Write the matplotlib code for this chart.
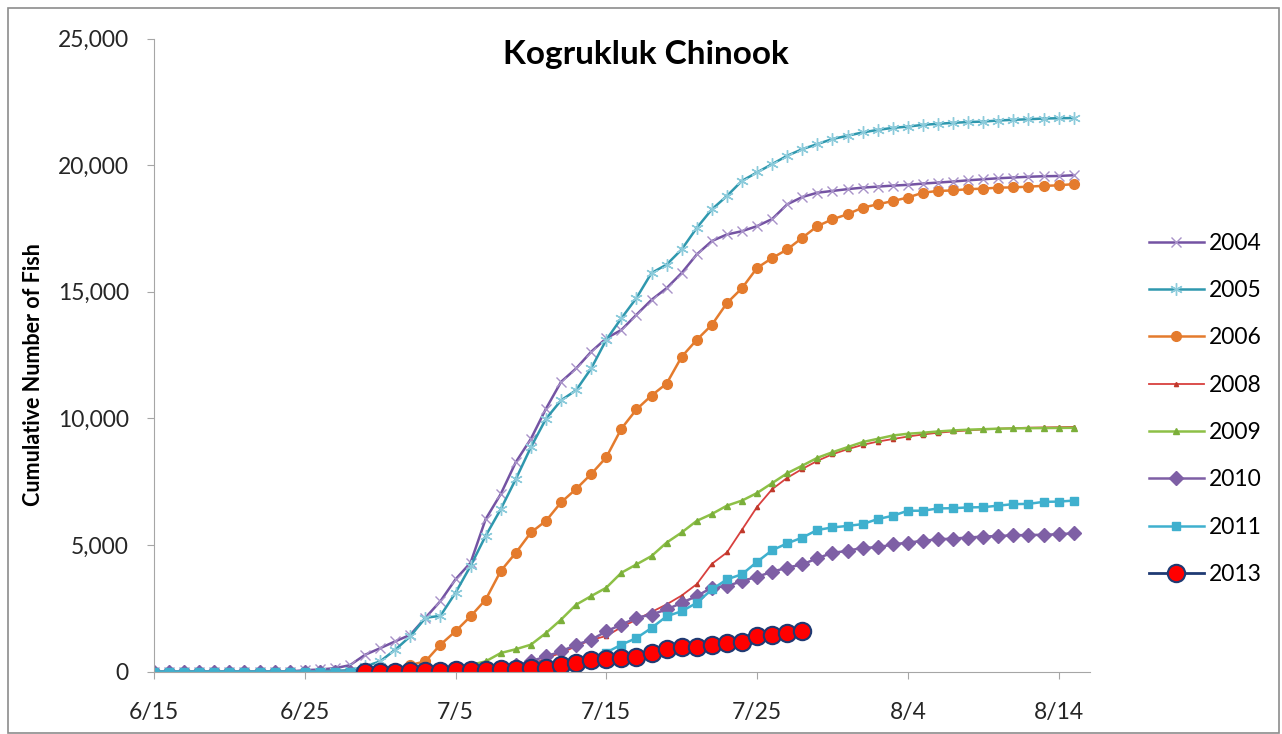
import matplotlib
matplotlib.use("Agg")
import matplotlib.pyplot as plt
import matplotlib.dates as mdates
from matplotlib.patches import Rectangle
import pandas as pd

plt.rcParams['font.family'] = ['Lato', 'DejaVu Sans']

# daily cumulative counts, 6/15 - 8/15
days = pd.date_range("2013-06-15", "2013-08-15", freq="D")

y2004 = [0] * 10 + [50, 80, 130, 250, 660, 920, 1190, 1450, 2120, 2780, 3640, 4300, 6020, 7010,
                   8270, 9190, 10380, 11440, 11970, 12630, 13160, 13490, 14090, 14680, 15140,
                   15740, 16470, 17000, 17260, 17390, 17590, 17870, 18450, 18740, 18910, 18980,
                   19050, 19110, 19150, 19190, 19220, 19270, 19310, 19350, 19400, 19440, 19480,
                   19510, 19540, 19560, 19570, 19600]
y2005 = [0] * 11 + [20, 30, 50, 200, 400, 860, 1390, 2120, 2200, 3110, 4170, 5360, 6410, 7600,
                   8860, 9980, 10710, 11110, 11970, 13100, 13950, 14750, 15740, 16070, 16670,
                   17520, 18250, 18780, 19380, 19710, 20040, 20370, 20630, 20830, 21030, 21160,
                   21290, 21390, 21470, 21520, 21590, 21630, 21670, 21700, 21720, 21760, 21790,
                   21810, 21840, 21850, 21860]
y2006 = [0] * 17 + [260, 400, 1060, 1590, 2180, 2840, 3970, 4690, 5490, 5950, 6680, 7210, 7800,
                   8460, 9590, 10350, 10900, 11370, 12430, 13100, 13690, 14550, 15140, 15940,
                   16330, 16670, 17130, 17590, 17860, 18060, 18320, 18450, 18580, 18720, 18910,
                   18980, 19000, 19050, 19070, 19110, 19120, 19150, 19180, 19200, 19250]
y2008 = [0] * 23 + [20, 60, 260, 530, 730, 1000, 1250, 1400, 1750, 2050, 2350, 2650, 3000, 3450,
                   4250, 4700, 5600, 6500, 7200, 7650, 8000, 8320, 8580, 8780, 8950, 9080, 9180,
                   9280, 9360, 9430, 9480, 9520, 9560, 9590, 9610, 9630, 9640, 9650, 9660]
y2009 = [0] * 18 + [50, 100, 130, 260, 400, 730, 880, 1060, 1520, 2050, 2640, 2980, 3310, 3900,
                   4230, 4560, 5090, 5490, 5950, 6220, 6550, 6750, 7050, 7440, 7830, 8130, 8440,
                   8660, 8860, 9060, 9190, 9320, 9390, 9430, 9480, 9520, 9550, 9570, 9590, 9600,
                   9610, 9615, 9620, 9625]
y2010 = [0] * 22 + [50, 150, 250, 400, 600, 790, 1060, 1250, 1590, 1850, 2120, 2250, 2450, 2710,
                   2980, 3310, 3370, 3570, 3740, 3940, 4100, 4230, 4470, 4690, 4760, 4890, 4900,
                   5020, 5090, 5160, 5220, 5250, 5290, 5330, 5350, 5380, 5390, 5400, 5420, 5460]
y2011 = [0] * 24 + [50, 100, 180, 280, 400, 550, 750, 1060, 1320, 1720, 2180, 2380, 2710, 3240,
                   3640, 3840, 4330, 4790, 5060, 5290, 5590, 5690, 5750, 5820, 6020, 6150, 6350,
                   6350, 6440, 6450, 6480, 6490, 6550, 6610, 6620, 6700, 6710, 6750]
# 2013 runs 6/29 - 7/28
days2013 = pd.date_range("2013-06-29", "2013-07-28", freq="D")
y2013 = [0, 0, 0, 10, 20, 30, 50, 50, 60, 80, 100, 130, 150, 260, 340, 440, 480, 540, 560, 720,
         870, 950, 970, 1060, 1140, 1170, 1420, 1450, 1530, 1580]

fig = plt.figure(figsize=(12.82, 7.34), dpi=100)
ax = fig.add_axes([154 / 1282, 1 - 671.5 / 734, 936 / 1282, 633 / 734])

ax.plot(days, y2004, color='#7453A3', lw=1.8, marker='x', ms=7, mec='#A892C8', mew=1.0, label='2004')
ax.plot(days, y2005, color='#2F98AE', lw=1.8, marker=(6, 2, 0), ms=9, mec='#8CCBDB', mew=1.0, label='2005')
ax.plot(days, y2006, color='#E47B2D', lw=1.8, marker='o', ms=7, mec='#E47B2D', mfc='#E47B2D', label='2006')
ax.plot(days, y2008, color='#D8403E', lw=1.3, marker='^', ms=3, mec='#C0392B', mfc='#C0392B', label='2008')
ax.plot(days, y2009, color='#8DC046', lw=1.8, marker='^', ms=4, mec='#7BAF3A', mfc='#7BAF3A', label='2009')
ax.plot(days, y2010, color='#7E5FA5', lw=1.8, marker='D', ms=7, mec='#7E5FA5', mfc='#7E5FA5', label='2010')
ax.plot(days, y2011, color='#3FB0CE', lw=1.8, marker='s', ms=6, mec='#3FB0CE', mfc='#3FB0CE', label='2011')
ax.plot(days2013, y2013, color='#1F3A73', lw=2.0, marker='o', ms=12.5, mec='#1F3A73', mfc='#FF0000', mew=1.5, label='2013')

ax.set_ylim(0, 25000)
ax.set_xlim(pd.Timestamp("2013-06-15"), pd.Timestamp("2013-08-16 02:00"))
ax.set_yticks(range(0, 25001, 5000))
ax.set_yticklabels(['0', '5,000', '10,000', '15,000', '20,000', '25,000'])
ax.set_xticks(pd.date_range("2013-06-15", "2013-08-14", freq="10D"))
ax.xaxis.set_major_formatter(mdates.DateFormatter('%-m/%-d'))
ax.tick_params(labelsize=16.5, colors='#262626', length=5, color='#A6A6A6')
ax.tick_params(axis='y', pad=13)
ax.tick_params(axis='x', pad=17)

for s in ['top', 'right']:
    ax.spines[s].set_visible(False)
for s in ['left', 'bottom']:
    ax.spines[s].set_color('#A6A6A6')

ax.set_ylabel('Cumulative Number of Fish', fontsize=15.5, fontweight='bold')
ax.yaxis.set_label_coords(-0.118, 0.469)
ax.text(0.525, 0.975, 'Kogrukluk Chinook', transform=ax.transAxes, ha='center', va='center',
        fontsize=24, fontweight='bold')

fig.legend(loc='upper left', bbox_to_anchor=(1128 / 1282, 1 - 212 / 734), frameon=False,
           fontsize=16.5, handlelength=2.4, labelspacing=1.15, handletextpad=0.25)

fig.patches.append(Rectangle((8 / 1282, 0.002), 1 - 8 / 1282 - 0.002, 1 - 8 / 734 - 0.002,
                             transform=fig.transFigure, fill=False, ec='#8C8C8C', lw=1.2))

fig.savefig('out.png', dpi=100)
